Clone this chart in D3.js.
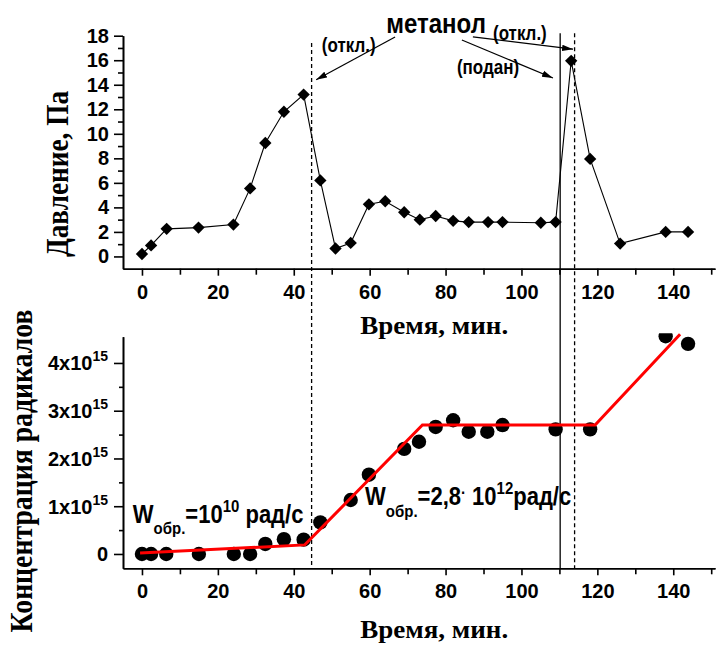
<!DOCTYPE html>
<html>
<head>
<meta charset="utf-8">
<script src="https://cdn.jsdelivr.net/npm/d3@7"></script>
<style>
  body { margin: 0; background: #fff; }
  .tall { transform-box: fill-box; transform-origin: center; transform: scaleY(1.15); }
</style>
</head>
<body>
<div id="chart"></div>
<script>
// pressure vs time (top panel)
var timeP = [0, 2.4, 6.5, 14.9, 24.1, 28.5, 32.5, 37.4, 42.6, 47, 51, 55, 59.8, 64.1,
  69.1, 73.2, 77.4, 82, 86.1, 91.2, 95, 105.1, 109, 113.1, 118.1, 126, 138, 143.9];
var pressure = [0.2, 0.9, 2.25, 2.35, 2.6, 5.55, 9.25, 11.8, 13.2, 6.2, 0.65, 1.1, 4.25, 4.5,
  3.6, 3.0, 3.3, 2.9, 2.8, 2.8, 2.8, 2.75, 2.8, 15.95, 7.95, 1.05, 2.0, 2.0];

// radical concentration vs time (bottom panel), units of 1e15
var timeC = [0, 2.4, 6.4, 15, 24.2, 28.5, 32.5, 37.4, 42.6, 47, 55, 59.8, 69.1, 73,
  77.4, 82, 86.1, 91, 95, 109, 118.1, 138, 143.9];
var conc = [0, 0, 0, 0, 0, 0, 0.21, 0.31, 0.3, 0.66, 1.13, 1.66, 2.2, 2.35,
  2.66, 2.8, 2.56, 2.56, 2.7, 2.61, 2.61, 4.56, 4.4];

// piecewise linear fit (red)
var fitTime = [-0.5, 42.9, 73.9, 119.4, 141.8];
var fitConc = [0.02, 0.19, 2.7, 2.7, 4.6];

// methanol on/off moments
var markerTime = [44.7, 110.2, 114];

var xTicks = [0, 20, 40, 60, 80, 100, 120, 140];
var xMinor = [10, 30, 50, 70, 90, 110, 130, 150];
var pTicks = [0, 2, 4, 6, 8, 10, 12, 14, 16, 18];
var pMinor = [1, 3, 5, 7, 9, 11, 13, 15, 17];
var cTicks = [0, 1, 2, 3, 4];
var cMinor = [0.5, 1.5, 2.5, 3.5];
var cTickLabels = ['0', '1x10', '2x10', '3x10', '4x10'];
var cTickExp = ['', '15', '15', '15', '15'];

var W = 717, H = 646;
var sans = '"Liberation Sans", Arial, sans-serif';
var serif = '"Liberation Serif", "Times New Roman", serif';

var svg = d3.select('#chart').append('svg')
  .attr('width', W)
  .attr('height', H)
  .style('font-family', sans);

var x = d3.scaleLinear().domain([-5, 151]).range([123, 715]);
var yP = d3.scaleLinear().domain([-1, 18]).range([268.7, 35.7]);
var yC = d3.scaleLinear().domain([-0.3, 4.55]).range([568.3, 336.7]);

svg.append('defs').append('marker')
  .attr('id', 'arrow')
  .attr('markerUnits', 'userSpaceOnUse')
  .attr('markerWidth', 12)
  .attr('markerHeight', 8)
  .attr('refX', 11)
  .attr('refY', 4)
  .attr('orient', 'auto')
  .append('path')
  .attr('d', 'M0,0.8 L11,4 L0,7.2 Z')
  .attr('fill', '#000');

svg.select('defs').append('clipPath')
  .attr('id', 'clipC')
  .append('rect')
  .attr('x', x(-5))
  .attr('y', yC(4.62))
  .attr('width', x(151) - x(-5))
  .attr('height', yC(-0.3) - yC(4.62));

function styleAxis(g) {
  g.attr('font-family', sans).attr('font-size', 20).attr('font-weight', 'bold');
  g.selectAll('path, line').attr('stroke', '#000').attr('stroke-width', 1.6);
  g.selectAll('text').attr('fill', '#000');
}

// --- axes, top panel
var gx1 = svg.append('g').attr('transform', 'translate(0,' + yP(-1) + ')');
gx1.call(d3.axisBottom(x).tickValues(xTicks).tickSize(7).tickPadding(9).tickSizeOuter(0));
styleAxis(gx1);
var gx1m = svg.append('g').attr('transform', 'translate(0,' + yP(-1) + ')');
gx1m.call(d3.axisBottom(x).tickValues(xMinor).tickSize(6).tickFormat('').tickSizeOuter(0));
styleAxis(gx1m);

var gy1 = svg.append('g').attr('transform', 'translate(' + x(-5) + ',0)');
gy1.call(d3.axisLeft(yP).tickValues(pTicks).tickSize(9).tickPadding(5).tickSizeOuter(0));
styleAxis(gy1);
var gy1m = svg.append('g').attr('transform', 'translate(' + x(-5) + ',0)');
gy1m.call(d3.axisLeft(yP).tickValues(pMinor).tickSize(5).tickFormat('').tickSizeOuter(0));
styleAxis(gy1m);

// --- axes, bottom panel
var gx2 = svg.append('g').attr('transform', 'translate(0,' + yC(-0.3) + ')');
gx2.call(d3.axisBottom(x).tickValues(xTicks).tickSize(7).tickPadding(9).tickSizeOuter(0));
styleAxis(gx2);
var gx2m = svg.append('g').attr('transform', 'translate(0,' + yC(-0.3) + ')');
gx2m.call(d3.axisBottom(x).tickValues(xMinor).tickSize(6).tickFormat('').tickSizeOuter(0));
styleAxis(gx2m);

var gy2 = svg.append('g').attr('transform', 'translate(' + x(-5) + ',0)');
gy2.call(d3.axisLeft(yC).tickValues(cTicks).tickSize(9).tickFormat('').tickSizeOuter(0));
styleAxis(gy2);
var gy2m = svg.append('g').attr('transform', 'translate(' + x(-5) + ',0)');
gy2m.call(d3.axisLeft(yC).tickValues(cMinor).tickSize(4).tickFormat('').tickSizeOuter(0));
styleAxis(gy2m);

gy2.selectAll('.tick').each(function (d, i) {
  var t = d3.select(this).append('text')
    .attr('x', -15)
    .attr('dy', '0.34em')
    .attr('text-anchor', 'end')
    .attr('fill', '#000');
  t.append('tspan').text(cTickLabels[i]);
  if (cTickExp[i]) {
    t.append('tspan').attr('font-size', 14).attr('dy', -9).text(cTickExp[i]);
  }
});

// --- axis titles
svg.append('text')
  .attr('x', x(77)).attr('y', 334)
  .attr('text-anchor', 'middle')
  .attr('font-family', serif).attr('font-weight', 'bold').attr('font-size', 26)
  .attr('textLength', 148).attr('lengthAdjust', 'spacingAndGlyphs')
  .text('Время, мин.');
svg.append('text')
  .attr('x', x(77)).attr('y', 638)
  .attr('text-anchor', 'middle')
  .attr('font-family', serif).attr('font-weight', 'bold').attr('font-size', 26)
  .attr('textLength', 148).attr('lengthAdjust', 'spacingAndGlyphs')
  .text('Время, мин.');
svg.append('text')
  .attr('transform', 'translate(68,174) rotate(-90)')
  .attr('text-anchor', 'middle')
  .attr('font-family', serif).attr('font-weight', 'bold').attr('font-size', 31)
  .attr('textLength', 166).attr('lengthAdjust', 'spacingAndGlyphs')
  .text('Давление, Па');
svg.append('text')
  .attr('transform', 'translate(32,471) rotate(-90)')
  .attr('text-anchor', 'middle')
  .attr('font-family', serif).attr('font-weight', 'bold').attr('font-size', 31)
  .attr('textLength', 323).attr('lengthAdjust', 'spacingAndGlyphs')
  .text('Концентрация радикалов');

// --- methanol on/off vertical lines
var markerTop = [17.4, 18.2, 18.2];
var markerDash = ['4,3', null, '4,3'];
svg.append('g').selectAll('line')
  .data(markerTime)
  .join('line')
  .attr('x1', function (d) { return x(d); })
  .attr('x2', function (d) { return x(d); })
  .attr('y1', function (d, i) { return yP(markerTop[i]); })
  .attr('y2', yC(-0.3))
  .attr('stroke', '#000')
  .attr('stroke-width', 1.3)
  .attr('stroke-dasharray', function (d, i) { return markerDash[i]; });

// --- pressure series
var pData = timeP.map(function (t, i) { return [t, pressure[i]]; });
svg.append('path')
  .datum(pData)
  .attr('fill', 'none')
  .attr('stroke', '#000')
  .attr('stroke-width', 1.1)
  .attr('d', d3.line().x(function (d) { return x(d[0]); }).y(function (d) { return yP(d[1]); }));

svg.append('g').selectAll('path')
  .data(pData)
  .join('path')
  .attr('d', d3.symbol(d3.symbolSquare, 76))
  .attr('transform', function (d) { return 'translate(' + x(d[0]) + ',' + yP(d[1]) + ') rotate(45)'; })
  .attr('fill', '#000');

// --- concentration series
var cData = timeC.map(function (t, i) { return [t, conc[i]]; });
svg.append('g').attr('clip-path', 'url(#clipC)')
  .selectAll('circle')
  .data(cData)
  .join('circle')
  .attr('cx', function (d) { return x(d[0]); })
  .attr('cy', function (d) { return yC(d[1]); })
  .attr('r', 7.2)
  .attr('fill', '#000');

var fData = fitTime.map(function (t, i) { return [t, fitConc[i]]; });
svg.append('path')
  .datum(fData)
  .attr('fill', 'none')
  .attr('stroke', '#ff0000')
  .attr('stroke-width', 3)
  .attr('d', d3.line().x(function (d) { return x(d[0]); }).y(function (d) { return yC(d[1]); }));

// --- methanol annotations
svg.append('text')
  .attr('class', 'tall')
  .attr('x', x(77.5)).attr('y', yP(18.3))
  .attr('text-anchor', 'middle')
  .attr('font-weight', 'bold').attr('font-size', 24)
  .text('метанол');

var notes = [
  { t: 47.4, v: 16.75, s: '(откл.)' },
  { t: 92.5, v: 17.73, s: '(откл.)' },
  { t: 83.0, v: 14.96, s: '(подан)' }
];
svg.append('g').selectAll('text')
  .data(notes)
  .join('text')
  .attr('class', 'tall')
  .attr('x', function (d) { return x(d.t); })
  .attr('y', function (d) { return yP(d.v); })
  .attr('font-weight', 'bold').attr('font-size', 17)
  .text(function (d) { return d.s; });

var arrows = [
  [66.7, 17.9, 45.9, 14.4],
  [84.3, 17.65, 108.3, 14.55],
  [87.2, 17.9, 113.6, 16.9]
];
svg.append('g').selectAll('line')
  .data(arrows)
  .join('line')
  .attr('x1', function (d) { return x(d[0]); })
  .attr('y1', function (d) { return yP(d[1]); })
  .attr('x2', function (d) { return x(d[2]); })
  .attr('y2', function (d) { return yP(d[3]); })
  .attr('stroke', '#000')
  .attr('stroke-width', 1.2)
  .attr('marker-end', 'url(#arrow)');

// --- rate labels
function rateLabel(t, v, parts) {
  var txt = svg.append('text')
    .attr('class', 'tall')
    .attr('x', x(t)).attr('y', yC(v))
    .attr('font-weight', 'bold').attr('font-size', 22);
  parts.forEach(function (p) {
    txt.append('tspan')
      .attr('font-size', p[1])
      .attr('dy', p[2])
      .text(p[0]);
  });
}
rateLabel(-2.4, 0.67, [['W', 22, 0], ['обр.', 15, 10], ['=10', 22, -10], ['10', 15, -9], [' рад/с', 22, 9]]);
rateLabel(58.8, 1.05, [['W', 22, 0], ['обр.', 15, 11], ['=2,8', 22, -11], ['·', 15, -6], [' 10', 22, 6], ['12', 15, -9], ['рад/с', 22, 9]]);
</script>
</body>
</html>
